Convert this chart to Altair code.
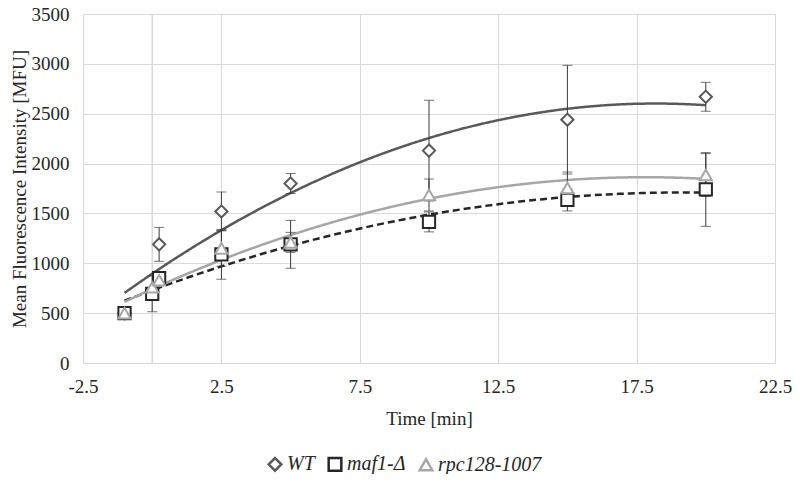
import altair as alt
import pandas as pd

series_names = ["WT", "maf1-Δ", "rpc128-1007"]
time_min = [-1, 0, 0.25, 2.5, 5, 10, 15, 20]
wt_values = [500, 720, 1190, 1520, 1800, 2130, 2440, 2670]
wt_errors = [0, 0, 170, 195, 100, 505, 545, 145]
maf1_values = [500, 694, 850, 1090, 1190, 1415, 1635, 1740]
maf1_errors = [0, 180, 60, 250, 240, 100, 110, 370]
rpc_values = [500, 760, 830, 1150, 1210, 1685, 1755, 1885]
rpc_errors = [0, 0, 0, 180, 100, 160, 160, 215]
x_ticks = [-2.5, 2.5, 7.5, 12.5, 17.5, 22.5]
y_ticks = [0, 500, 1000, 1500, 2000, 2500, 3000, 3500]
axis_cross = [0]

colors = ["#595959", "#262626", "#A6A6A6"]
shapes = ["diamond", "square", "triangle-up"]

rows = []
for name, vals, errs in zip(series_names, [wt_values, maf1_values, rpc_values],
                            [wt_errors, maf1_errors, rpc_errors]):
    for t, v, e in zip(time_min, vals, errs):
        rows.append({"series": name, "time": t, "value": v, "err": e,
                     "lo": v - e, "hi": v + e})
df = pd.DataFrame(rows)

FONT = "Liberation Serif"
TXT = "#262626"

x_scale = alt.Scale(domain=[-2.5, 22.5], nice=False, zero=False)
y_scale = alt.Scale(domain=[0, 3500], nice=False)
color_scale = alt.Scale(domain=series_names, range=colors)
shape_scale = alt.Scale(domain=series_names, range=shapes)

x_enc = alt.X("time:Q", scale=x_scale,
              axis=alt.Axis(values=x_ticks, title="Time [min]",
                            labelExpr="(datum.value < 0 ? '-' : '') + format(abs(datum.value), '.1f')",
                            grid=True, gridColor="#D9D9D9", domain=False, ticks=False,
                            labelFlush=False, labelOverlap=False,
                            labelFont=FONT, labelFontSize=19, labelColor=TXT,
                            labelPadding=14, titleFont=FONT, titleFontSize=19,
                            titleFontWeight="normal", titleColor=TXT, titlePadding=13))
y_enc = alt.Y("value:Q", scale=y_scale,
              axis=alt.Axis(values=y_ticks, format="d", title="Mean Fluorescence Intensity [MFU]",
                            grid=True, gridColor="#D9D9D9", domain=False, ticks=False,
                            labelFlush=False, labelOverlap=False,
                            labelFont=FONT, labelFontSize=19, labelColor=TXT,
                            labelPadding=14, titleFont=FONT, titleFontSize=19,
                            titleFontWeight="normal", titleColor=TXT, titlePadding=2))

legend = alt.Legend(
    title=None, orient="none", direction="horizontal", legendX=182, legendY=440,
    padding=0, labelFont=FONT, labelFontSize=20, labelFontStyle="italic", labelColor=TXT,
    symbolSize=160, symbolStrokeWidth=2.5, symbolFillColor="white",
    columnPadding=8, labelOffset=2)

base = alt.Chart(df)

zero_line = alt.Chart(pd.DataFrame({"x0": axis_cross})).mark_rule(
    color="#D9D9D9", strokeWidth=1.5).encode(x=alt.X("x0:Q", scale=x_scale))

err_df = df[df["err"] > 0]
err_rule = alt.Chart(err_df).mark_rule(color="#3A3A3A", strokeWidth=1).encode(
    x=alt.X("time:Q", scale=x_scale),
    y=alt.Y("lo:Q", scale=y_scale),
    y2="hi:Q")
cap_lo = alt.Chart(err_df).mark_tick(color="#3A3A3A", orient="horizontal", size=10,
                                     thickness=1).encode(
    x=alt.X("time:Q", scale=x_scale), y=alt.Y("lo:Q", scale=y_scale))
cap_hi = alt.Chart(err_df).mark_tick(color="#3A3A3A", orient="horizontal", size=10,
                                     thickness=1).encode(
    x=alt.X("time:Q", scale=x_scale), y=alt.Y("hi:Q", scale=y_scale))

fit = base.transform_regression(
    "time", "value", groupby=["series"], method="poly", order=2, extent=[-1, 20]
).mark_line(strokeWidth=2.5).encode(
    x=x_enc, y=y_enc,
    color=alt.Color("series:N", scale=color_scale, legend=legend),
    strokeDash=alt.condition(alt.datum.series == "maf1-Δ",
                             alt.value([7, 4]), alt.value([1, 0])))

points = base.mark_point(filled=False, fill="white", fillOpacity=1, size=150,
                         strokeWidth=2, opacity=1).encode(
    x=alt.X("time:Q", scale=x_scale),
    y=alt.Y("value:Q", scale=y_scale),
    color=alt.Color("series:N", scale=color_scale, legend=legend),
    shape=alt.Shape("series:N", scale=shape_scale, legend=legend))

chart = alt.layer(zero_line, fit, err_rule, cap_lo, cap_hi, points).properties(
    width=692, height=349,
    autosize=alt.AutoSizeParams(type="none"),
    padding={"left": 75, "top": 6, "right": 17, "bottom": 111},
).configure_view(stroke="#A6A6A6", strokeWidth=1.2).configure(background="white")

chart.save("out.html", embed_options={"renderer": "svg", "actions": False})
